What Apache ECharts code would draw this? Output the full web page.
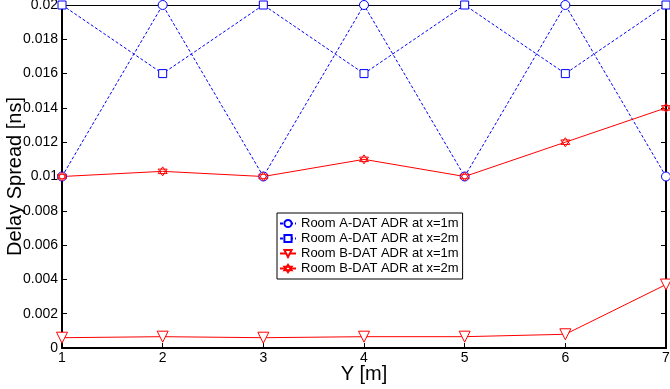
<!DOCTYPE html>
<html>
<head>
<meta charset="utf-8">
<script src="https://cdn.jsdelivr.net/npm/echarts@6/dist/echarts.min.js"></script>
<style>
  html, body { margin: 0; padding: 0; background: #fff; }
  #chart { width: 670px; height: 389px; }
</style>
</head>
<body>
<div id="chart"></div>
<script>
const positions = [1, 2, 3, 4, 5, 6, 7]
const roomA1 = [0.01, 0.02, 0.01, 0.02, 0.01, 0.02, 0.01]
const roomA2 = [0.02, 0.016, 0.02, 0.016, 0.02, 0.016, 0.02]
const roomB1 = [0.0006, 0.00066, 0.0006, 0.00066, 0.00066, 0.0008, 0.0037]
const roomB2 = [0.01, 0.0103, 0.01, 0.011, 0.01, 0.012, 0.014]
const seriesNames = [
  'Room A-DAT ADR at x=1m',
  'Room A-DAT ADR at x=2m',
  'Room B-DAT ADR at x=1m',
  'Room B-DAT ADR at x=2m'
]

const hexagram = 'path://M0,-10L8.66,5L-8.66,5Z M0,10L-8.66,-5L8.66,-5Z'
const font = 'Arial, "Liberation Sans", Helvetica, sans-serif'

const toPoints = (values) => values.map((v, i) => [positions[i], v])

const makeSeries = (name, values, color, symbol, dashed, extra = {}) => ({
  name,
  type: 'line',
  data: toPoints(values),
  symbol,
  symbolSize: 9,
  showSymbol: true,
  lineStyle: { color, width: 1, type: dashed ? [3, 2] : 'solid' },
  itemStyle: { color: '#fff', borderColor: color, borderWidth: 1 },
  emphasis: { disabled: true },
  animation: false,
  ...extra
})

const chart = echarts.init(document.getElementById('chart'))

chart.setOption({
  backgroundColor: '#fff',
  textStyle: { fontFamily: font },
  grid: { left: 62, right: 4, top: 5, bottom: 41, containLabel: false, outerBoundsMode: 'none' },
  legend: {
    orient: 'vertical',
    left: 277,
    top: 213,
    padding: [4, 4, 4, 2],
    itemWidth: 16,
    itemHeight: 9,
    itemGap: 2,
    borderColor: '#000',
    borderWidth: 1,
    backgroundColor: '#fff',
    textStyle: { fontSize: 13, lineHeight: 13, color: '#000', fontFamily: font },
    data: seriesNames.map((name) => ({ name, itemStyle: { color: '#fff' } }))
  },
  xAxis: [{
    type: 'value',
    min: 1,
    max: 7,
    interval: 1,
    name: 'Y [m]',
    nameLocation: 'middle',
    nameGap: 16,
    nameMoveOverlap: false,
    nameTextStyle: { fontSize: 20, color: '#000', fontFamily: font },
    axisLine: { show: true, onZero: false, lineStyle: { color: '#000', width: 2 } },
    axisTick: { show: true, inside: true, length: 5, lineStyle: { color: '#000' } },
    axisLabel: { color: '#000', fontSize: 14, margin: 3 },
    splitLine: { show: false }
  }, {
    type: 'value',
    position: 'top',
    min: 1,
    max: 7,
    interval: 1,
    axisLine: { show: true, onZero: false, lineStyle: { color: '#000', width: 1 } },
    axisTick: { show: false },
    axisLabel: { show: false },
    splitLine: { show: false }
  }],
  yAxis: [{
    type: 'value',
    min: 0,
    max: 0.02,
    interval: 0.002,
    name: 'Delay Spread [ns]',
    nameLocation: 'middle',
    nameGap: 37,
    nameMoveOverlap: false,
    nameTextStyle: { fontSize: 20, color: '#000', fontFamily: font },
    axisLine: { show: true, onZero: false, lineStyle: { color: '#000', width: 2 } },
    axisTick: { show: true, inside: true, length: 5, lineStyle: { color: '#000' } },
    axisLabel: { color: '#000', fontSize: 14, margin: 4 },
    splitLine: { show: false }
  }, {
    type: 'value',
    position: 'right',
    min: 0,
    max: 0.02,
    interval: 0.002,
    axisLine: { show: true, onZero: false, lineStyle: { color: '#000', width: 2 } },
    axisTick: { show: true, inside: true, length: 5, lineStyle: { color: '#000' } },
    axisLabel: { show: false },
    splitLine: { show: false }
  }],
  series: [
    makeSeries(seriesNames[0], roomA1, '#0000ff', 'circle', true),
    makeSeries(seriesNames[1], roomA2, '#0000ff', 'rect', true, { symbolSize: 8 }),
    makeSeries(seriesNames[2], roomB1, '#ff0000', 'triangle', false, { symbolRotate: 180, symbolSize: 11 }),
    makeSeries(seriesNames[3], roomB2, '#ff0000', hexagram, false, {
      symbolSize: 9,
      itemStyle: { color: 'rgba(255,255,255,0)', borderColor: '#ff0000', borderWidth: 1 }
    })
  ]
})
</script>
</body>
</html>
